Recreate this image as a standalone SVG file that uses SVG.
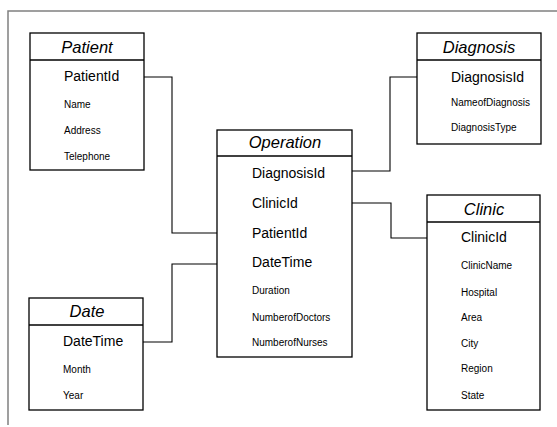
<svg xmlns="http://www.w3.org/2000/svg" width="557" height="427" viewBox="0 0 557 427">
<style>
text{font-family:"Liberation Sans",Arial,sans-serif;fill:#000}
.box{fill:#fff;stroke:#000;stroke-width:1.3}
.sep{stroke:#000;stroke-width:1.3}
.hdr{font-size:16.5px;font-style:italic;text-anchor:middle}
.key{font-size:14px}
.fld{font-size:10px}
.frame{stroke:#808080;stroke-width:1.5;fill:none}
.conn{stroke:#000;stroke-width:1.1;fill:none}
</style>
<rect width="557" height="427" fill="#fff"/>
<path class="frame" d="M8 425 V11 H557"/>
<g id="connectors">
<path class="conn" d="M142 77 H172 V233 H217"/>
<path class="conn" d="M348 171 H390 V77 H417"/>
<path class="conn" d="M350 203 H391 V238 H432"/>
<path class="conn" d="M139 342 H172 V264 H221"/>
</g>
<g id="patient">
<rect class="box" x="30" y="33" width="114" height="137"/>
<line class="sep" x1="30" y1="60" x2="144" y2="60"/>
<text class="hdr" x="87" y="53">Patient</text>
<text class="key" x="64" y="81">PatientId</text>
<text class="fld" x="64" y="108">Name</text>
<text class="fld" x="64" y="134">Address</text>
<text class="fld" x="64" y="160">Telephone</text>
</g>
<g id="diagnosis">
<rect class="box" x="417" y="33" width="124" height="111"/>
<line class="sep" x1="417" y1="60" x2="541" y2="60"/>
<text class="hdr" x="479" y="53">Diagnosis</text>
<text class="key" x="451" y="82">DiagnosisId</text>
<text class="fld" x="451" y="106">NameofDiagnosis</text>
<text class="fld" x="451" y="131">DiagnosisType</text>
</g>
<g id="operation">
<rect class="box" x="217" y="130" width="135" height="227"/>
<line class="sep" x1="217" y1="156" x2="352" y2="156"/>
<text class="hdr" x="285" y="148">Operation</text>
<text class="key" x="252" y="178">DiagnosisId</text>
<text class="key" x="252" y="208">ClinicId</text>
<text class="key" x="252" y="238">PatientId</text>
<text class="key" x="252" y="267">DateTime</text>
<text class="fld" x="252" y="294">Duration</text>
<text class="fld" x="252" y="321">NumberofDoctors</text>
<text class="fld" x="252" y="346">NumberofNurses</text>
</g>
<g id="clinic">
<rect class="box" x="427" y="195" width="113" height="215"/>
<line class="sep" x1="427" y1="222" x2="540" y2="222"/>
<text class="hdr" x="484" y="215">Clinic</text>
<text class="key" x="461" y="242">ClinicId</text>
<text class="fld" x="461" y="269">ClinicName</text>
<text class="fld" x="461" y="296">Hospital</text>
<text class="fld" x="461" y="321">Area</text>
<text class="fld" x="461" y="347">City</text>
<text class="fld" x="461" y="372">Region</text>
<text class="fld" x="461" y="399">State</text>
</g>
<g id="date">
<rect class="box" x="29" y="298" width="114" height="112"/>
<line class="sep" x1="29" y1="325" x2="143" y2="325"/>
<text class="hdr" x="87" y="317">Date</text>
<text class="key" x="63" y="346">DateTime</text>
<text class="fld" x="63" y="373">Month</text>
<text class="fld" x="63" y="399">Year</text>
</g>
</svg>
